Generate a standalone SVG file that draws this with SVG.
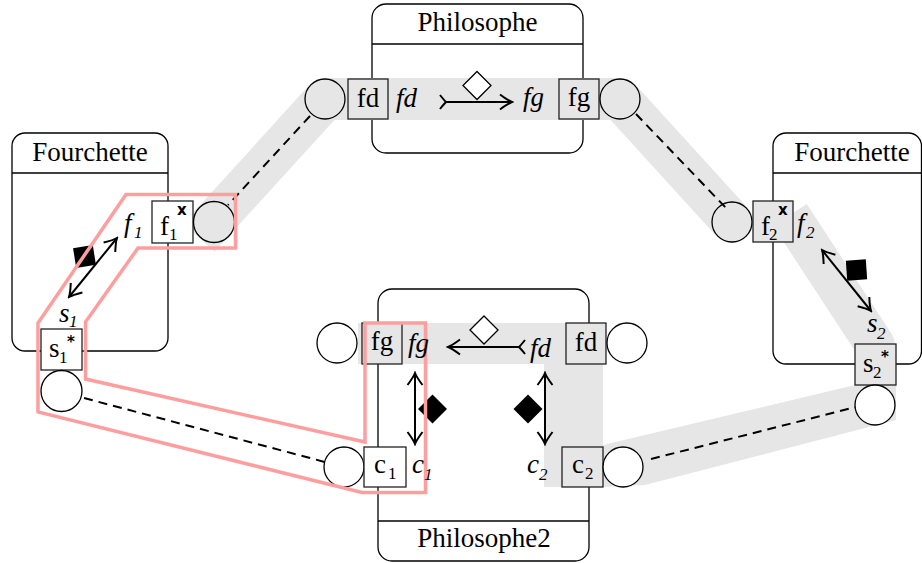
<svg xmlns="http://www.w3.org/2000/svg" width="922" height="563" viewBox="0 0 922 563">
<style>
.box{fill:#fff;stroke:#000;stroke-width:1.3}
.sep{stroke:#000;stroke-width:1.3}
.pw{fill:#fff;stroke:#222;stroke-width:1.3}
.pg{fill:#e6e6e6;stroke:#222;stroke-width:1.3}
.c{fill:none;stroke:#000;stroke-width:1.3}
.cw{fill:#fff;stroke:#000;stroke-width:1.3}
.band{fill:none;stroke:#e6e6e6}
.bandf{fill:#e6e6e6;stroke:none}
.dash{stroke:#000;stroke-width:2;stroke-dasharray:9 6;fill:none}
.arr{stroke:#000;stroke-width:2;fill:none}
.red{fill:none;stroke:#ff9e9e;stroke-width:3.5;stroke-linejoin:miter}
.h{font-family:"Liberation Serif",serif;font-size:27px;fill:#000}
.t{font-family:"Liberation Serif",serif;font-size:27px;fill:#000}
.ti{font-family:"Liberation Serif",serif;font-size:27px;font-style:italic;fill:#000}
.sub{font-family:"Liberation Serif",serif;font-size:17px;fill:#000}
.subi{font-family:"Liberation Serif",serif;font-size:17px;font-style:italic;fill:#000}
.sup{font-family:"DejaVu Sans",sans-serif;font-size:15px;font-weight:bold;fill:#000}
.m{text-anchor:middle}
</style>
<defs>
<marker id="ah" viewBox="-13 -9 15 18" refX="0" refY="0" markerWidth="15" markerHeight="18" orient="auto-start-reverse" markerUnits="userSpaceOnUse">
<path d="M-12,-7.5 Q-4,-1.5 0,0 Q-4,1.5 -12,7.5" fill="none" stroke="#000" stroke-width="2"/>
</marker>
<marker id="tail" viewBox="-8 -9 10 18" refX="0" refY="0" markerWidth="10" markerHeight="18" orient="auto" markerUnits="userSpaceOnUse">
<path d="M-6,-7 Q-2,-2 0,0 Q-2,2 -6,7" fill="none" stroke="#000" stroke-width="2"/>
</marker>
</defs>

<!-- component boxes -->
<g id="Philosophe">
<rect class="box" x="372" y="4" width="211" height="149" rx="14"/>
<line class="sep" x1="372" y1="44" x2="583" y2="44"/>
<text class="h m" x="477.5" y="31">Philosophe</text>
</g>
<g id="Fourchette1">
<rect class="box" x="12" y="133" width="156" height="218" rx="13"/>
<line class="sep" x1="12" y1="173" x2="168" y2="173"/>
<text class="h m" x="90" y="161">Fourchette</text>
</g>
<g id="Fourchette2">
<rect class="box" x="773" y="133" width="148.5" height="231" rx="13"/>
<line class="sep" x1="773" y1="173" x2="921.5" y2="173"/>
<text class="h m" x="852" y="161">Fourchette</text>
</g>
<g id="Philosophe2">
<rect class="box" x="378" y="289" width="211" height="272" rx="14"/>
<line class="sep" x1="378" y1="521" x2="589" y2="521"/>
<text class="h m" x="484" y="547">Philosophe2</text>
</g>

<!-- gray highlighted cycle -->
<g id="highlight">
<path class="band" d="M199,237.5 L325,99 L620,99 L732,222" stroke-width="42" stroke-linejoin="round"/>
<circle cx="732" cy="222" r="21" fill="#e6e6e6"/>
<path class="band" d="M790,215 L875,345 L875,405" stroke-width="40" stroke-linejoin="round"/>
<polygon class="bandf" points="603,445 855,385 896,385 896,420 645,485 603,487"/>
<rect class="bandf" x="544" y="343" width="59" height="144"/>
<rect class="bandf" x="358" y="323" width="248" height="41"/>
</g>

<!-- connectors -->
<g id="connectors">
<line class="dash" x1="310" y1="116" x2="228" y2="205"/>
<line class="dash" x1="636" y1="114" x2="726" y2="208"/>
<line class="dash" x1="84" y1="398" x2="325" y2="462"/>
<line class="dash" x1="651" y1="459" x2="856" y2="407"/>
<line class="arr" x1="446" y1="102" x2="512" y2="102" marker-start="url(#tail)" marker-end="url(#ah)"/>
<line class="arr" x1="519" y1="347" x2="448" y2="347" marker-start="url(#tail)" marker-end="url(#ah)"/>
<line class="arr" x1="69" y1="297" x2="117" y2="238" marker-start="url(#ah)" marker-end="url(#ah)"/>
<line class="arr" x1="822" y1="250" x2="871" y2="311" marker-start="url(#ah)" marker-end="url(#ah)"/>
<line class="arr" x1="415" y1="373" x2="415" y2="444" marker-start="url(#ah)" marker-end="url(#ah)"/>
<line class="arr" x1="545" y1="373" x2="545" y2="444" marker-start="url(#ah)" marker-end="url(#ah)"/>
<polygon points="477,71.5 491,85.5 477,99.5 463,85.5" fill="#fff" stroke="#000" stroke-width="1.3"/>
<polygon points="484,316 498,330 484,344 470,330" fill="#fff" stroke="#000" stroke-width="1.3"/>
<polygon points="432.5,394.5 447,409 432.5,423.5 418,409" fill="#000"/>
<polygon points="528,394.5 542.5,409 528,423.5 513.5,409" fill="#000"/>
<rect x="74.5" y="246.5" width="20" height="20" fill="#000" transform="rotate(-9 84.5 256.5)"/>
<rect x="846.5" y="260" width="20" height="20" fill="#000" transform="rotate(-4 856.5 270)"/>
</g>

<!-- ports -->
<g id="port-fd-top">
<circle class="c" cx="325" cy="99" r="20"/>
<rect class="pg" x="348" y="79" width="40" height="40"/>
<text class="t m" x="368" y="107">fd</text>
<text class="ti" x="396" y="107">fd</text>
</g>
<g id="port-fg-top">
<rect class="pg" x="559" y="79" width="40" height="40"/>
<circle class="c" cx="620" cy="99" r="20"/>
<text class="t m" x="579" y="106">fg</text>
<text class="ti" x="523" y="106">fg</text>
</g>
<g id="port-f1">
<rect class="pw" x="152" y="201" width="41" height="42"/>
<circle class="c" cx="214" cy="222" r="20.5"/>
<text class="t" x="160" y="235">f</text>
<text class="sub" x="169" y="240">1</text>
<text class="sup" x="177" y="215">x</text>
<text class="ti" x="124" y="232">f</text>
<text class="subi" x="134" y="238">1</text>
</g>
<g id="port-s1">
<rect class="pw" x="41" y="329" width="41" height="41"/>
<circle class="c" cx="61.5" cy="391" r="20.5"/>
<text class="t" x="49" y="357">s</text>
<text class="sub" x="59" y="363">1</text>
<text class="sup" x="67" y="347">*</text>
<text class="ti" x="59" y="322">s</text>
<text class="subi" x="69" y="327">1</text>
</g>
<g id="port-f2">
<circle class="c" cx="732" cy="222" r="20"/>
<rect class="pg" x="753" y="201" width="40" height="41"/>
<text class="t" x="761" y="235">f</text>
<text class="sub" x="769" y="240">2</text>
<text class="sup" x="778" y="215">x</text>
<text class="ti" x="797" y="232">f</text>
<text class="subi" x="806" y="238">2</text>
</g>
<g id="port-s2">
<rect class="pg" x="855" y="344" width="41" height="41"/>
<circle class="cw" cx="875" cy="405" r="20"/>
<text class="t" x="863" y="372">s</text>
<text class="sub" x="873" y="378">2</text>
<text class="sup" x="881" y="362">*</text>
<text class="ti" x="867" y="332">s</text>
<text class="subi" x="877" y="339">2</text>
</g>
<g id="port-fg-bottom">
<circle class="c" cx="337" cy="343" r="20"/>
<rect class="pg" x="362" y="323" width="40" height="41"/>
<text class="t m" x="382" y="350">fg</text>
</g>
<g id="port-fd-bottom">
<rect class="pg" x="566" y="323" width="40" height="41"/>
<circle class="c" cx="627" cy="343" r="20"/>
<text class="t m" x="586" y="351">fd</text>
<text class="ti" x="530" y="357">fd</text>
</g>
<g id="port-c1">
<circle class="c" cx="344" cy="467" r="20"/>
<rect class="pw" x="364" y="447" width="42" height="40"/>
<text class="t" x="374" y="473">c</text>
<text class="sub" x="388" y="479">1</text>
</g>
<g id="port-c2">
<rect class="pg" x="562" y="447" width="41" height="40"/>
<circle class="cw" cx="623" cy="467" r="20"/>
<text class="t" x="572" y="473">c</text>
<text class="sub" x="585" y="479">2</text>
<text class="ti" x="527" y="473">c</text>
<text class="subi" x="539" y="480">2</text>
</g>

<!-- red highlighted cycle -->
<g id="red-cycle">
<polygon class="red" points="126,194.5 235.5,194.5 235.5,248 138,248 85.5,322 85.5,379 365,442 365,323 425.5,323 425.5,492.5 362,492.5 38,412 38,323"/>
</g>

<!-- labels drawn over the red outline -->
<g id="labels-over-red">
<text class="ti" x="408" y="352">fg</text>
<text class="ti" x="412" y="473">c</text>
<text class="subi" x="424" y="480">1</text>
</g>
</svg>
